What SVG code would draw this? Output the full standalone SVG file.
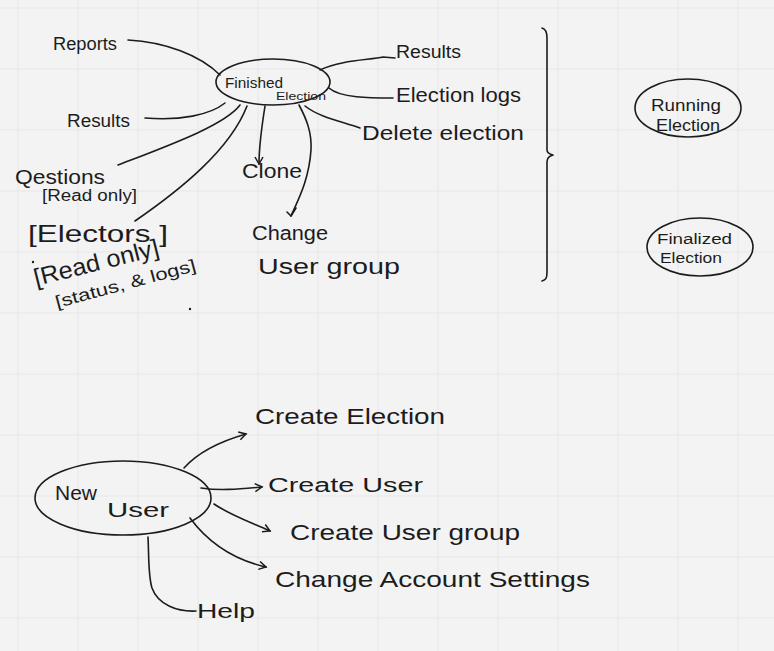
<svg xmlns="http://www.w3.org/2000/svg" width="774" height="651" viewBox="0 0 774 651">
<defs>
<style>
.bg{fill:#f3f3f3}
.grid{stroke:#e7e7e7;stroke-width:1}
.ln{fill:none;stroke:#1c1c1c;stroke-width:1.6;stroke-linecap:round;stroke-linejoin:round}
.nd{fill:none;stroke:#1c1c1c;stroke-width:1.6}
.t{font-family:"Liberation Sans","DejaVu Sans",sans-serif;fill:#1c1c1c}
</style>
<marker id="ah" viewBox="0 0 10 10" refX="8" refY="5" markerWidth="10" markerHeight="10" markerUnits="userSpaceOnUse" orient="auto">
<path d="M1,1 L8,5 L1,9" fill="none" stroke="#1c1c1c" stroke-width="1.5"/>
</marker>
</defs>
<rect class="bg" width="774" height="651"/>
<g id="grid" class="grid">
<line x1="18" y1="0" x2="18" y2="651"/><line x1="78" y1="0" x2="78" y2="651"/><line x1="138" y1="0" x2="138" y2="651"/><line x1="198" y1="0" x2="198" y2="651"/><line x1="258" y1="0" x2="258" y2="651"/><line x1="318" y1="0" x2="318" y2="651"/><line x1="378" y1="0" x2="378" y2="651"/><line x1="438" y1="0" x2="438" y2="651"/><line x1="498" y1="0" x2="498" y2="651"/><line x1="558" y1="0" x2="558" y2="651"/><line x1="618" y1="0" x2="618" y2="651"/><line x1="678" y1="0" x2="678" y2="651"/><line x1="738" y1="0" x2="738" y2="651"/>
<line x1="0" y1="8" x2="774" y2="8"/><line x1="0" y1="69" x2="774" y2="69"/><line x1="0" y1="130" x2="774" y2="130"/><line x1="0" y1="191" x2="774" y2="191"/><line x1="0" y1="252" x2="774" y2="252"/><line x1="0" y1="313" x2="774" y2="313"/><line x1="0" y1="374" x2="774" y2="374"/><line x1="0" y1="435" x2="774" y2="435"/><line x1="0" y1="496" x2="774" y2="496"/><line x1="0" y1="557" x2="774" y2="557"/><line x1="0" y1="618" x2="774" y2="618"/>
</g>

<g id="connectors">
<path id="c-reports" class="ln" d="M128,40 C165,42 200,55 220,75"/>
<path id="c-results-l" class="ln" d="M145,118 C180,121 210,115 225,103"/>
<path id="c-questions" class="ln" d="M118,165 C170,145 225,125 240,105"/>
<path id="c-electors" class="ln" d="M135,221 C180,190 230,150 247,106"/>
<path id="c-clone" class="ln" d="M265,106 C262,125 259,145 259,164" marker-end="url(#ah)"/>
<path id="c-change" class="ln" d="M299,105 C306,118 312,132 311,150 C309,180 298,200 291,216"/>
<path id="c-change-tick" class="ln" d="M287,212 L291,216 L296,208"/>
<path id="c-results-r" class="ln" d="M320,70 C340,60 370,60 383,57 L395,58"/>
<path id="c-logs" class="ln" d="M329,88 C340,98 370,98 393,98"/>
<path id="c-delete" class="ln" d="M305,106 C320,118 345,122 360,128"/>
<path id="brace" class="ln" d="M542,28 C546,29 547,32 547,38 L547,150 C547,153 549,154 553,155 C549,156 547,158 547,162 L547,272 C547,278 546,280 542,281"/>
<path id="c-create-election" class="ln" d="M184,468 C200,450 225,440 246,434" marker-end="url(#ah)"/>
<path id="c-create-user" class="ln" d="M201,488 C220,491 240,489 262,487" marker-end="url(#ah)"/>
<path id="c-create-group" class="ln" d="M214,504 C230,515 250,522 270,531" marker-end="url(#ah)"/>
<path id="c-change-settings" class="ln" d="M190,518 C210,545 235,560 266,567" marker-end="url(#ah)"/>
<path id="c-help" class="ln" d="M148,537 C149,555 148,575 152,588 C158,605 178,612 196,611"/>
</g>

<g id="finished-election">
<ellipse class="nd" cx="273" cy="82" rx="57" ry="23"/>
<text class="t" x="225" y="88" font-size="14" textLength="58" lengthAdjust="spacingAndGlyphs">Finished</text>
<text class="t" x="276" y="100" font-size="10" textLength="50" lengthAdjust="spacingAndGlyphs">Election</text>
</g>
<g id="reports"><text class="t" x="53" y="50" font-size="18" textLength="64" lengthAdjust="spacingAndGlyphs">Reports</text></g>
<g id="results-left"><text class="t" x="67" y="127" font-size="18" textLength="63" lengthAdjust="spacingAndGlyphs">Results</text></g>
<g id="questions">
<text class="t" x="15" y="184" font-size="20" textLength="90" lengthAdjust="spacingAndGlyphs">Qestions</text>
<text class="t" x="42" y="201" font-size="16" textLength="95" lengthAdjust="spacingAndGlyphs">[Read only]</text>
</g>
<g id="electors">
<text class="t" x="28" y="242" font-size="24" textLength="140" lengthAdjust="spacingAndGlyphs">[Electors ]</text>
<text class="t" x="36" y="286" font-size="24" textLength="128" lengthAdjust="spacingAndGlyphs" transform="rotate(-14 36 286)">[Read only]</text>
<text class="t" x="57" y="308" font-size="17" textLength="145" lengthAdjust="spacingAndGlyphs" transform="rotate(-15 57 308)">[status, &amp; logs]</text>
<circle cx="33" cy="262" r="1.2" fill="#1c1c1c"/>
<circle cx="190" cy="309" r="1.2" fill="#1c1c1c"/>
</g>
<g id="clone"><text class="t" x="242" y="178" font-size="20" textLength="60" lengthAdjust="spacingAndGlyphs">Clone</text></g>
<g id="change-user-group">
<text class="t" x="252" y="240" font-size="20" textLength="76" lengthAdjust="spacingAndGlyphs">Change</text>
<text class="t" x="258" y="274" font-size="22" textLength="142" lengthAdjust="spacingAndGlyphs">User group</text>
</g>
<g id="results-right"><text class="t" x="396" y="58" font-size="18" textLength="65" lengthAdjust="spacingAndGlyphs">Results</text></g>
<g id="election-logs"><text class="t" x="396" y="102" font-size="20" textLength="125" lengthAdjust="spacingAndGlyphs">Election logs</text></g>
<g id="delete-election"><text class="t" x="362" y="140" font-size="20" textLength="162" lengthAdjust="spacingAndGlyphs">Delete election</text></g>

<g id="running-election">
<ellipse class="nd" cx="688" cy="108" rx="53" ry="29"/>
<text class="t" x="651" y="111" font-size="16" textLength="70" lengthAdjust="spacingAndGlyphs">Running</text>
<text class="t" x="656" y="131" font-size="16" textLength="64" lengthAdjust="spacingAndGlyphs">Election</text>
</g>
<g id="finalized-election">
<ellipse class="nd" cx="700" cy="247" rx="53" ry="29"/>
<text class="t" x="657" y="244" font-size="14" textLength="75" lengthAdjust="spacingAndGlyphs">Finalized</text>
<text class="t" x="660" y="263" font-size="14" textLength="62" lengthAdjust="spacingAndGlyphs">Election</text>
</g>

<g id="new-user">
<ellipse class="nd" cx="123" cy="498" rx="88" ry="37"/>
<text class="t" x="55" y="500" font-size="20" textLength="42" lengthAdjust="spacingAndGlyphs">New</text>
<text class="t" x="107" y="517" font-size="20" textLength="62" lengthAdjust="spacingAndGlyphs">User</text>
</g>
<g id="create-election"><text class="t" x="255" y="424" font-size="22" textLength="190" lengthAdjust="spacingAndGlyphs">Create Election</text></g>
<g id="create-user"><text class="t" x="268" y="492" font-size="20" textLength="155" lengthAdjust="spacingAndGlyphs">Create User</text></g>
<g id="create-user-group"><text class="t" x="290" y="540" font-size="22" textLength="230" lengthAdjust="spacingAndGlyphs">Create User group</text></g>
<g id="change-account-settings"><text class="t" x="275" y="587" font-size="22" textLength="315" lengthAdjust="spacingAndGlyphs">Change Account Settings</text></g>
<g id="help"><text class="t" x="197" y="618" font-size="20" textLength="58" lengthAdjust="spacingAndGlyphs">Help</text></g>
</svg>
